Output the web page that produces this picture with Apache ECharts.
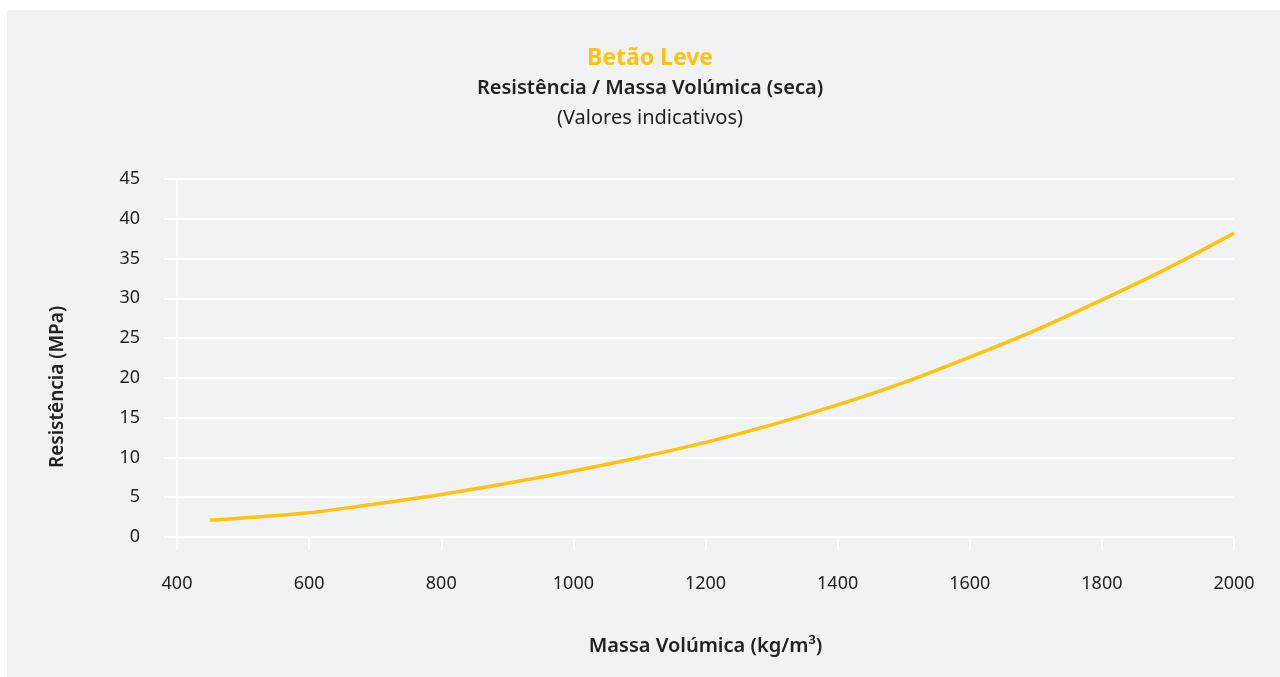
<!DOCTYPE html>
<html>
<head>
<meta charset="utf-8">
<script src="https://cdn.jsdelivr.net/npm/echarts@6/dist/echarts.min.js"></script>
<style>
html,body{margin:0;padding:0;background:#ffffff;}
#chart{width:1280px;height:677px;}
</style>
</head>
<body>
<div id="chart"></div>
<script>
const massaVolumica = [450, 600, 700, 800, 900, 1000, 1100, 1200, 1300, 1400, 1500, 1600, 1700, 1800, 1900, 2000];
const resistencia = [2.1, 3.05, 4.15, 5.35, 6.75, 8.3, 10.0, 11.9, 14.1, 16.6, 19.4, 22.6, 26.0, 29.8, 33.8, 38.2];
const titleText = 'Betão Leve';
const subtitleText = 'Resistência / Massa Volúmica (seca)';
const noteText = '(Valores indicativos)';
const xName = 'Massa Volúmica (kg/m³)';
const yName = 'Resistência (MPa)';

const FONT = '"Noto Sans"';
const chart = echarts.init(document.getElementById('chart'), null, {renderer: 'canvas'});
chart.setOption({
  backgroundColor: '#ffffff',
  animation: false,
  graphic: [
    {type: 'rect', shape: {x: 7, y: 10, width: 1273, height: 667}, style: {fill: '#f1f2f4'}, z: -10},
    {type: 'text', x: 650, y: 58, style: {text: titleText, fill: '#ffc20e', font: 'bold 23px ' + FONT, textAlign: 'center', textVerticalAlign: 'middle'}},
    {type: 'text', x: 650, y: 88, style: {text: subtitleText, fill: '#222222', font: '600 20px ' + FONT, textAlign: 'center', textVerticalAlign: 'middle'}},
    {type: 'text', x: 650, y: 118, style: {text: noteText, fill: '#222222', font: '20px ' + FONT, textAlign: 'center', textVerticalAlign: 'middle'}},
    {type: 'text', x: 58, y: 387, rotation: Math.PI / 2, style: {text: yName, fill: '#222222', font: '600 19px ' + FONT, textAlign: 'center', textVerticalAlign: 'middle'}}
  ],
  grid: {left: 177, right: 46, top: 179, bottom: 140, containLabel: false},
  xAxis: {
    type: 'value', min: 400, max: 2000, interval: 200,
    name: xName, nameLocation: 'middle', nameGap: 99,
    nameTextStyle: {color: '#222222', fontSize: 20, fontWeight: 600, fontFamily: 'Noto Sans'},
    axisLine: {show: true, lineStyle: {color: '#ffffff', width: 2}},
    axisTick: {show: true, length: 13, lineStyle: {color: '#ffffff', width: 2}},
    axisLabel: {color: '#222222', fontSize: 18, fontFamily: 'Noto Sans', margin: 38, formatter: v => String(v)},
    splitLine: {show: false}
  },
  yAxis: {
    type: 'value', min: 0, max: 45, interval: 5,
    axisLine: {show: true, lineStyle: {color: '#ffffff', width: 2}},
    axisTick: {show: true, length: 13, lineStyle: {color: '#ffffff', width: 2}},
    axisLabel: {color: '#222222', fontSize: 18, fontFamily: 'Noto Sans', margin: 37, formatter: v => String(v)},
    splitLine: {show: true, lineStyle: {color: '#ffffff', width: 2}}
  },
  series: [{
    type: 'line',
    data: massaVolumica.map((x, i) => [x, resistencia[i]]),
    smooth: 0.3,
    showSymbol: false,
    lineStyle: {color: '#ffc20e', width: 3.5},
    itemStyle: {color: '#ffc20e'}
  }]
});
</script>
</body>
</html>
